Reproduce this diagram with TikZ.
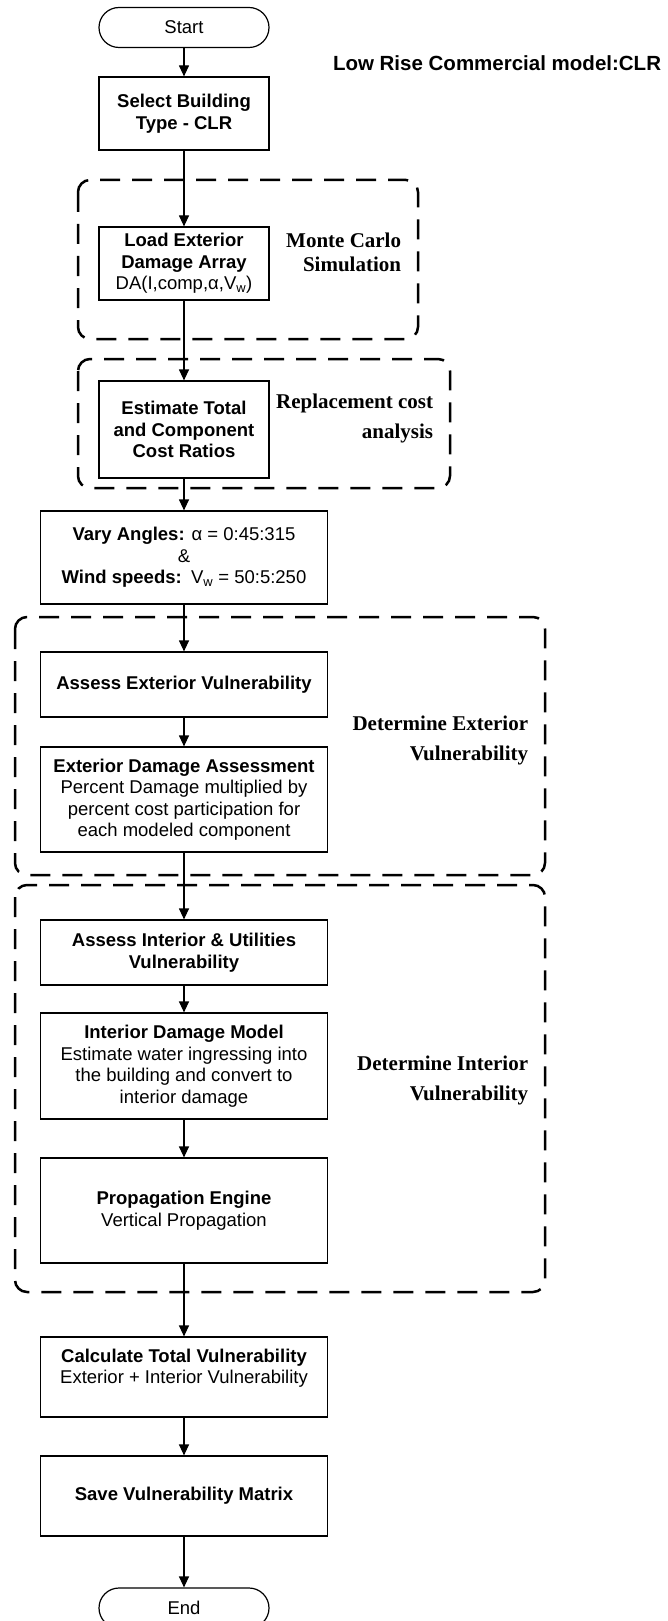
\documentclass[tikz,border=0pt]{standalone}
\usepackage{fontspec}
\setmainfont{Liberation Sans}
\newfontfamily\labelfont{Liberation Serif}
\usetikzlibrary{arrows.meta}

\begin{document}
\begin{tikzpicture}[x=1pt, y=-1pt, line width=1.2pt, >={Triangle[width=10pt,length=11pt]},
	box/.style={draw, align=center, minimum width=170pt, inner sep=0pt, font=\fontsize{18.5}{21.5}\selectfont},
	widebox/.style={box, minimum width=287pt},
	terminal/.style={box, rounded corners=20pt, minimum height=40pt},
	region/.style={draw, line width=2.5pt, dash pattern=on 20pt off 12pt, rounded corners=12pt},
	regionlabel/.style={align=right, anchor=east, font=\labelfont\bfseries\fontsize{21}{30}\selectfont},
	title/.style={anchor=east, font=\bfseries\fontsize{20.5}{24}\selectfont}]
			\useasboundingbox (0,0) rectangle (668,1621);
			
			%dashed regions
			\draw[region] (78,180) rectangle (418,339);
			\draw[region] (78,359) rectangle (450,488);
			\draw[region] (15,617) rectangle (545,875);
			\draw[region] (15,885) rectangle (545,1292);
			
			\node[title] (model) at (665,63) {Low Rise Commercial model:CLR};
			
			%flow
			\node[terminal] (start) at (184,27.5) {Start};
			\node[box, minimum height=73pt] (select) at (184,113.5) {\textbf{Select Building}\\\textbf{Type - CLR}};
			\node[box, minimum height=73pt] (load) at (184,263.5) {\textbf{Load Exterior}\\\textbf{Damage Array}\\DA(I,comp,α,V\textsubscript{w})};
			\node[box, minimum height=97pt] (estimate) at (184,429.5) {\textbf{Estimate Total}\\\textbf{and Component}\\\textbf{Cost Ratios}};
			\node[widebox, minimum height=93pt] (vary) at (184,557.5) {\textbf{Vary Angles:} α = 0:45:315\\\&\\\textbf{Wind speeds:}\enspace V\textsubscript{w} = 50:5:250};
			\node[widebox, minimum height=65pt] (assessext) at (184,684.5) {\textbf{Assess Exterior Vulnerability}};
			\node[widebox, minimum height=105pt] (extdamage) at (184,799.5) {\textbf{Exterior Damage Assessment}\\Percent Damage multiplied by\\percent cost participation for\\each modeled component};
			\node[widebox, minimum height=65pt] (assessint) at (184,952.5) {\textbf{Assess Interior \& Utilities}\\\textbf{Vulnerability}};
			\node[widebox, minimum height=106pt] (intdamage) at (184,1066) {\textbf{Interior Damage Model}\\Estimate water ingressing into\\the building and convert to\\interior damage};
			\node[widebox, minimum height=105pt] (propagation) at (184,1210.5) {\textbf{Propagation Engine}\\Vertical Propagation};
			\node[widebox, minimum height=80pt] (calc) at (184,1377) {\textbf{Calculate Total Vulnerability}\\Exterior + Interior Vulnerability\\\mbox{}};
			\node[widebox, minimum height=80pt] (save) at (184,1496) {\textbf{Save Vulnerability Matrix}};
			\node[terminal] (end) at (184,1608) {End};
			
			%region labels
			\node[regionlabel, font=\labelfont\bfseries\fontsize{21}{24}\selectfont] (montecarlo) at (405,252) {Monte Carlo\\Simulation};
			\node[regionlabel] (replacement) at (437,418) {Replacement cost\\analysis};
			\node[regionlabel] (detext) at (532,740) {Determine Exterior\\Vulnerability};
			\node[regionlabel] (detint) at (532,1080) {Determine Interior\\Vulnerability};
			
			\foreach \a/\b in {start/select, select/load, load/estimate, estimate/vary, vary/assessext, assessext/extdamage, extdamage/assessint, assessint/intdamage, intdamage/propagation, propagation/calc, calc/save, save/end}{
				\draw[->] (\a) -- (\b);
			}
		\end{tikzpicture}
\end{document}
